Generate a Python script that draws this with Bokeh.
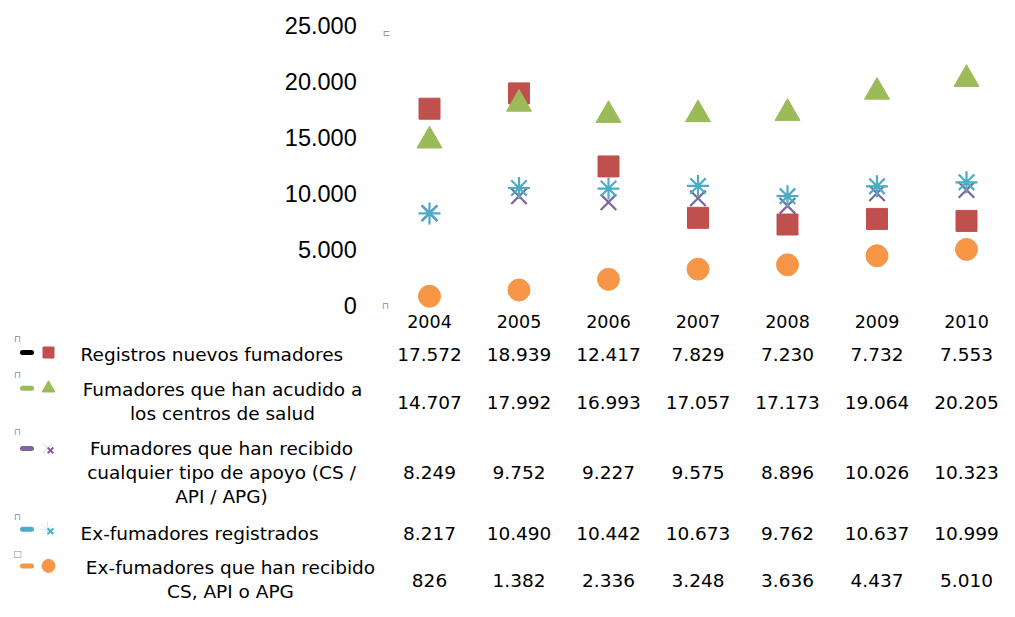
from bokeh.plotting import figure
from bokeh.models import Range1d, FixedTicker, ColumnDataSource, LinearAxis
from bokeh.embed import file_html
from bokeh.resources import INLINE
from bokeh.core.properties import value

# ---------------- data ----------------
years = ["2004", "2005", "2006", "2007", "2008", "2009", "2010"]
registros = [17572, 18939, 12417, 7829, 7230, 7732, 7553]
acudido = [14707, 17992, 16993, 17057, 17173, 19064, 20205]
apoyo = [8249, 9752, 9227, 9575, 8896, 10026, 10323]
ex_registrados = [8217, 10490, 10442, 10673, 9762, 10637, 10999]
ex_apoyo = [826, 1382, 2336, 3248, 3636, 4437, 5010]
series_names = [
    ["Registros nuevos fumadores"],
    ["Fumadores que han acudido a", "los centros de salud"],
    ["Fumadores que han recibido", "cualquier tipo de apoyo (CS /", "API / APG)"],
    ["Ex-fumadores registrados"],
    ["Ex-fumadores que han recibido", "CS, API o APG"],
]
y_ticks = [0, 5000, 10000, 15000, 20000, 25000]
y_tick_labels = ["0", "5.000", "10.000", "15.000", "20.000", "25.000"]

# ---------------- styles / layout ----------------
RED, GREEN, PURPLE, BLUE, ORANGE = "#C0504D", "#9BBB59", "#8064A2", "#4BACC6", "#F79646"
FONT = "DejaVu Sans"
W, H = 999, 601
BAND = 89.5           # px per category
FIRST_CAT = 429       # canvas px of first category centre
Y0 = 305              # canvas px of value 0
PX_PER_UNIT = 0.0112  # canvas px per value unit
xs = list(range(len(years)))


def fmt(v):
    return f"{v:,}".replace(",", ".")


def ty(y):
    # vertical compression of the table so that it fits the canvas
    return 321 + (y - 321) * 0.94


p = figure(width=W, height=H, output_backend="svg", toolbar_location=None,
           x_range=Range1d(-FIRST_CAT / BAND, (W - FIRST_CAT) / BAND),
           y_range=Range1d(-(H - Y0) / PX_PER_UNIT, Y0 / PX_PER_UNIT),
           x_axis_location=None, y_axis_location=None,
           min_border=0, min_border_left=0, min_border_right=0,
           min_border_top=0, min_border_bottom=0)
p.extra_x_ranges = {"px": Range1d(0, W)}
p.extra_y_ranges = {"px": Range1d(H, 0)}
p.outline_line_color = None
p.grid.visible = False
p.background_fill_color = "white"
p.border_fill_color = "white"

ya = LinearAxis(fixed_location=-0.5)
ya.ticker = FixedTicker(ticks=y_ticks)
ya.major_label_overrides = {t: l for t, l in zip(y_ticks, y_tick_labels)}
ya.axis_line_color = None
ya.major_tick_line_color = None
ya.minor_tick_line_color = None
ya.major_tick_out = 0
ya.major_tick_in = 0
ya.major_label_standoff = 28
ya.major_label_text_font = "Liberation Sans"
ya.major_label_text_font_size = "23.5px"
ya.major_label_text_color = "black"
p.add_layout(ya, "left")

src = ColumnDataSource(dict(x=xs, reg=registros, acu=acudido, apo=apoyo,
                            exr=ex_registrados, exa=ex_apoyo))
p.scatter("x", "reg", source=src, marker="square", size=21, fill_color=RED, line_color=RED)
p.scatter("x", "acu", source=src, marker="triangle", size=25, fill_color=GREEN, line_color=GREEN)
p.scatter("x", "apo", source=src, marker="x", size=22, line_color=PURPLE, line_width=2.2)
p.scatter("x", "exr", source=src, marker="asterisk", size=22, line_color=BLUE, line_width=2.2)
p.scatter("x", "exa", source=src, marker="circle", size=22, fill_color=ORANGE, line_color=ORANGE)

kw = dict(x_range_name="px", y_range_name="px")

# small grey glyph artefacts of the original
p.text(x=[386, 385], y=[32, 305], text=["\u228f", "\u2293"],
       text_font=value(FONT), text_font_size="9px", text_color="#888888",
       text_align="center", text_baseline="middle", **kw)

# ---------------- data table ----------------
p.text(x=xs, y=[321] * len(xs), text=years, y_range_name="px", text_font=value(FONT),
       text_font_size="17.5px", text_color="black", text_align="center", text_baseline="middle")

TABLE_FS = "18.5px"
all_series = [registros, acudido, apoyo, ex_registrados, ex_apoyo]
row_centers = [356, 407, 482, 546, 596]
for vals, yc in zip(all_series, row_centers):
    p.text(x=xs, y=[ty(yc)] * len(xs), text=[fmt(v) for v in vals], y_range_name="px",
           text_font=value(FONT), text_font_size=TABLE_FS, text_color="black",
           text_align="center", text_baseline="middle")

# row labels
line_gap = 25.5
label_cx = [80, 222, 221, 80, 230]
label_align = ["left", "center", "center", "left", "center"]
label_yc = [356, 406.5, 482, 546, 595.5]
for lines, cx, al, yc in zip(series_names, label_cx, label_align, label_yc):
    n = len(lines)
    ys = [ty(yc + (i - (n - 1) / 2) * line_gap) for i in range(n)]
    p.text(x=[cx] * n, y=ys, text=lines, text_font=value(FONT),
           text_font_size=TABLE_FS, text_color="black",
           text_align=al, text_baseline="middle", **kw)

# legend keys
key_y = [ty(v) for v in [354, 392, 456, 542, 581]]
key_line_colors = ["black", GREEN, PURPLE, BLUE, ORANGE]
for yk, c in zip(key_y, key_line_colors):
    p.line(x=[22, 31], y=[yk, yk], line_color=c, line_width=5, line_cap="round", **kw)
p.scatter(x=[48], y=[key_y[0]], marker="square", size=11, fill_color=RED, line_color=RED, **kw)
p.scatter(x=[48], y=[key_y[1]], marker="triangle", size=13, fill_color=GREEN,
          line_color=GREEN, **kw)
p.scatter(x=[47], y=[key_y[2]], marker="x", size=14, line_color="#d8d0e4", line_width=1, **kw)
p.scatter(x=[50], y=[key_y[2] + 2], marker="x", size=8, line_color=PURPLE, line_width=2, **kw)
p.scatter(x=[47], y=[key_y[3]], marker="asterisk", size=14, line_color="#cfe8f0",
          line_width=1, **kw)
p.scatter(x=[50], y=[key_y[3] + 2], marker="x", size=8, line_color=BLUE, line_width=2, **kw)
p.scatter(x=[48], y=[key_y[4]], marker="circle", size=13, fill_color=ORANGE,
          line_color=ORANGE, **kw)

# grey glyph artefacts above legend keys
p.text(x=[17] * 5, y=[ty(v) for v in [340, 378, 439, 529, 568]],
       text=["\u2293", "\u2293", "\u2293", "\u2293", "\u25a1"],
       text_font=value(FONT), text_font_size="9px", text_color="#888888",
       text_align="center", text_baseline="middle", **kw)

open("out.html", "w").write(file_html(p, INLINE))
